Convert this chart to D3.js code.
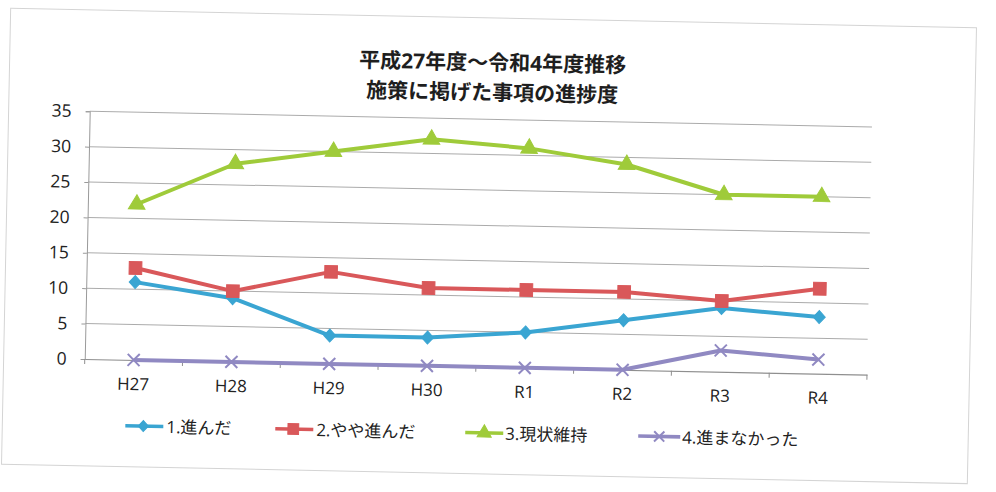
<!DOCTYPE html>
<html>
<head>
<meta charset="utf-8">
<script src="https://cdn.jsdelivr.net/npm/d3@7"></script>
<style>
html,body{margin:0;padding:0;background:#fff;}
svg{display:block;}
text{font-family:"Open Sans","Noto Sans CJK JP",sans-serif;fill:#222;}
</style>
</head>
<body>
<svg id="chart" width="996" height="492"></svg>
<script>
const categories = ["H27","H28","H29","H30","R1","R2","R3","R4"];
const seriesNames = ["1.進んだ","2.やや進んだ","3.現状維持","4.進まなかった"];
const s1 = [11, 9, 4, 4, 5, 7, 9, 8];
const s2 = [13, 10, 13, 11, 11, 11, 10, 12];
const s3 = [22, 28, 30, 32, 31, 29, 25, 25];
const s4 = [0, 0, 0, 0, 0, 0, 3, 2];
const yTicks = [0, 5, 10, 15, 20, 25, 30, 35];
const titleLines = ["平成27年度～令和4年度推移", "施策に掲げた事項の進捗度"];

const colors = ["#3aa5d2", "#d9585a", "#9fcb3a", "#9089c2"];
const symbols = ["diamond", "square", "triangle", "x"];
const allSeries = [s1, s2, s3, s4];

const svg = d3.select("#chart");
const g = svg.append("g").attr("transform", "rotate(1.15,490,246)");

// faint border of the chart area
g.append("rect").attr("x", 6).attr("y", 18).attr("width", 966).attr("height", 456)
  .attr("fill", "none").attr("stroke", "#d4d4d4").attr("stroke-width", 1);

const plotL = 87.1, plotR = 869.5, plotT = 119.3, plotB = 367.1;
const x = d3.scaleBand().domain(categories).range([plotL, plotR]).padding(0);
const y = d3.scaleLinear().domain([0, 35]).range([plotB, plotT]);
const cx = c => x(c) + x.bandwidth() / 2;

// gridlines
g.append("g").selectAll("line").data(yTicks.filter(t => t > 0)).join("line")
  .attr("x1", plotL).attr("x2", plotR)
  .attr("y1", d => y(d)).attr("y2", d => y(d))
  .attr("stroke", "#ababab").attr("stroke-width", 1);

// y axis
const yAxis = g.append("g").attr("transform", `translate(${plotL},0)`)
  .call(d3.axisLeft(y).tickValues(yTicks).tickSize(4).tickPadding(14));
yAxis.select(".domain").attr("stroke", "#9a9a9a");
yAxis.selectAll(".tick line").attr("stroke", "#9a9a9a");
yAxis.selectAll("text").attr("font-size", 17.5).style("fill", "#222")
  .attr("font-family", "'Open Sans','Noto Sans CJK JP',sans-serif");

// x axis
const xAxis = g.append("g").attr("transform", `translate(0,${plotB})`)
  .call(d3.axisBottom(x).tickSize(0).tickPadding(18));
xAxis.select(".domain").attr("stroke", "#8f8f8f").attr("stroke-width", 1.2);
xAxis.selectAll("text").attr("font-size", 17).style("fill", "#222")
  .attr("font-family", "'Open Sans','Noto Sans CJK JP',sans-serif");
// tick marks between categories
const bounds = categories.map(c => x(c)).concat([plotR]);
g.append("g").selectAll("line").data(bounds).join("line")
  .attr("x1", d => d).attr("x2", d => d)
  .attr("y1", plotB).attr("y2", plotB + 5)
  .attr("stroke", "#8f8f8f").attr("stroke-width", 1);

function drawMarker(sel, type, color, scale) {
  const s = scale || 1;
  if (type === "x") {
    const r = 6 * s;
    sel.append("path").attr("d", `M${-r},${-r}L${r},${r}M${-r},${r}L${r},${-r}`)
      .attr("stroke", color).attr("stroke-width", 2).attr("fill", "none");
  } else if (type === "diamond") {
    const w = 6 * s, h = 6.5 * s;
    sel.append("path").attr("d", `M0,${-h}L${w},0L0,${h}L${-w},0Z`)
      .attr("fill", color).attr("stroke", color).attr("stroke-width", 1);
  } else {
    const sym = type === "square" ? d3.symbolSquare : d3.symbolTriangle;
    const size = (type === "square" ? 160 : 120) * s * s;
    sel.append("path").attr("d", d3.symbol().type(sym).size(size)())
      .attr("fill", color).attr("stroke", color).attr("stroke-width", 1);
  }
}

const line = d3.line().x((d, i) => cx(categories[i])).y(d => y(d));

allSeries.forEach((vals, si) => {
  const sg = g.append("g");
  sg.append("path").datum(vals).attr("d", line)
    .attr("fill", "none").attr("stroke", colors[si]).attr("stroke-width", 4)
    .attr("stroke-linejoin", "round");
  vals.forEach((v, i) => {
    const m = sg.append("g").attr("transform", `translate(${cx(categories[i])},${y(v)})`);
    drawMarker(m, symbols[si], colors[si], 1);
  });
});

// title
g.append("g").selectAll("text").data(titleLines).join("text")
  .attr("x", 489).attr("y", (d, i) => 62 + i * 30)
  .attr("text-anchor", "middle").attr("dominant-baseline", "central")
  .attr("font-size", 21).attr("font-weight", "bold").style("fill", "#1e1e1e")
  .text(d => d);

// legend
const legendY = 433;
const legendItems = [
  {x1: 129, x2: 167, mx: 147, tx: 170},
  {x1: 279, x2: 317, mx: 297, tx: 320},
  {x1: 469, x2: 507, mx: 488, tx: 509},
  {x1: 642, x2: 684, mx: 663, tx: 686}
];
legendItems.forEach((it, si) => {
  const lg = g.append("g");
  lg.append("line").attr("x1", it.x1).attr("x2", it.x2).attr("y1", legendY).attr("y2", legendY)
    .attr("stroke", colors[si]).attr("stroke-width", 3.6);
  const m = lg.append("g").attr("transform", `translate(${it.mx},${legendY})`);
  drawMarker(m, symbols[si], colors[si], 0.85);
  lg.append("text").attr("x", it.tx).attr("y", legendY).attr("dominant-baseline", "central")
    .attr("font-size", 17).text(seriesNames[si]);
});
</script>
</body>
</html>
